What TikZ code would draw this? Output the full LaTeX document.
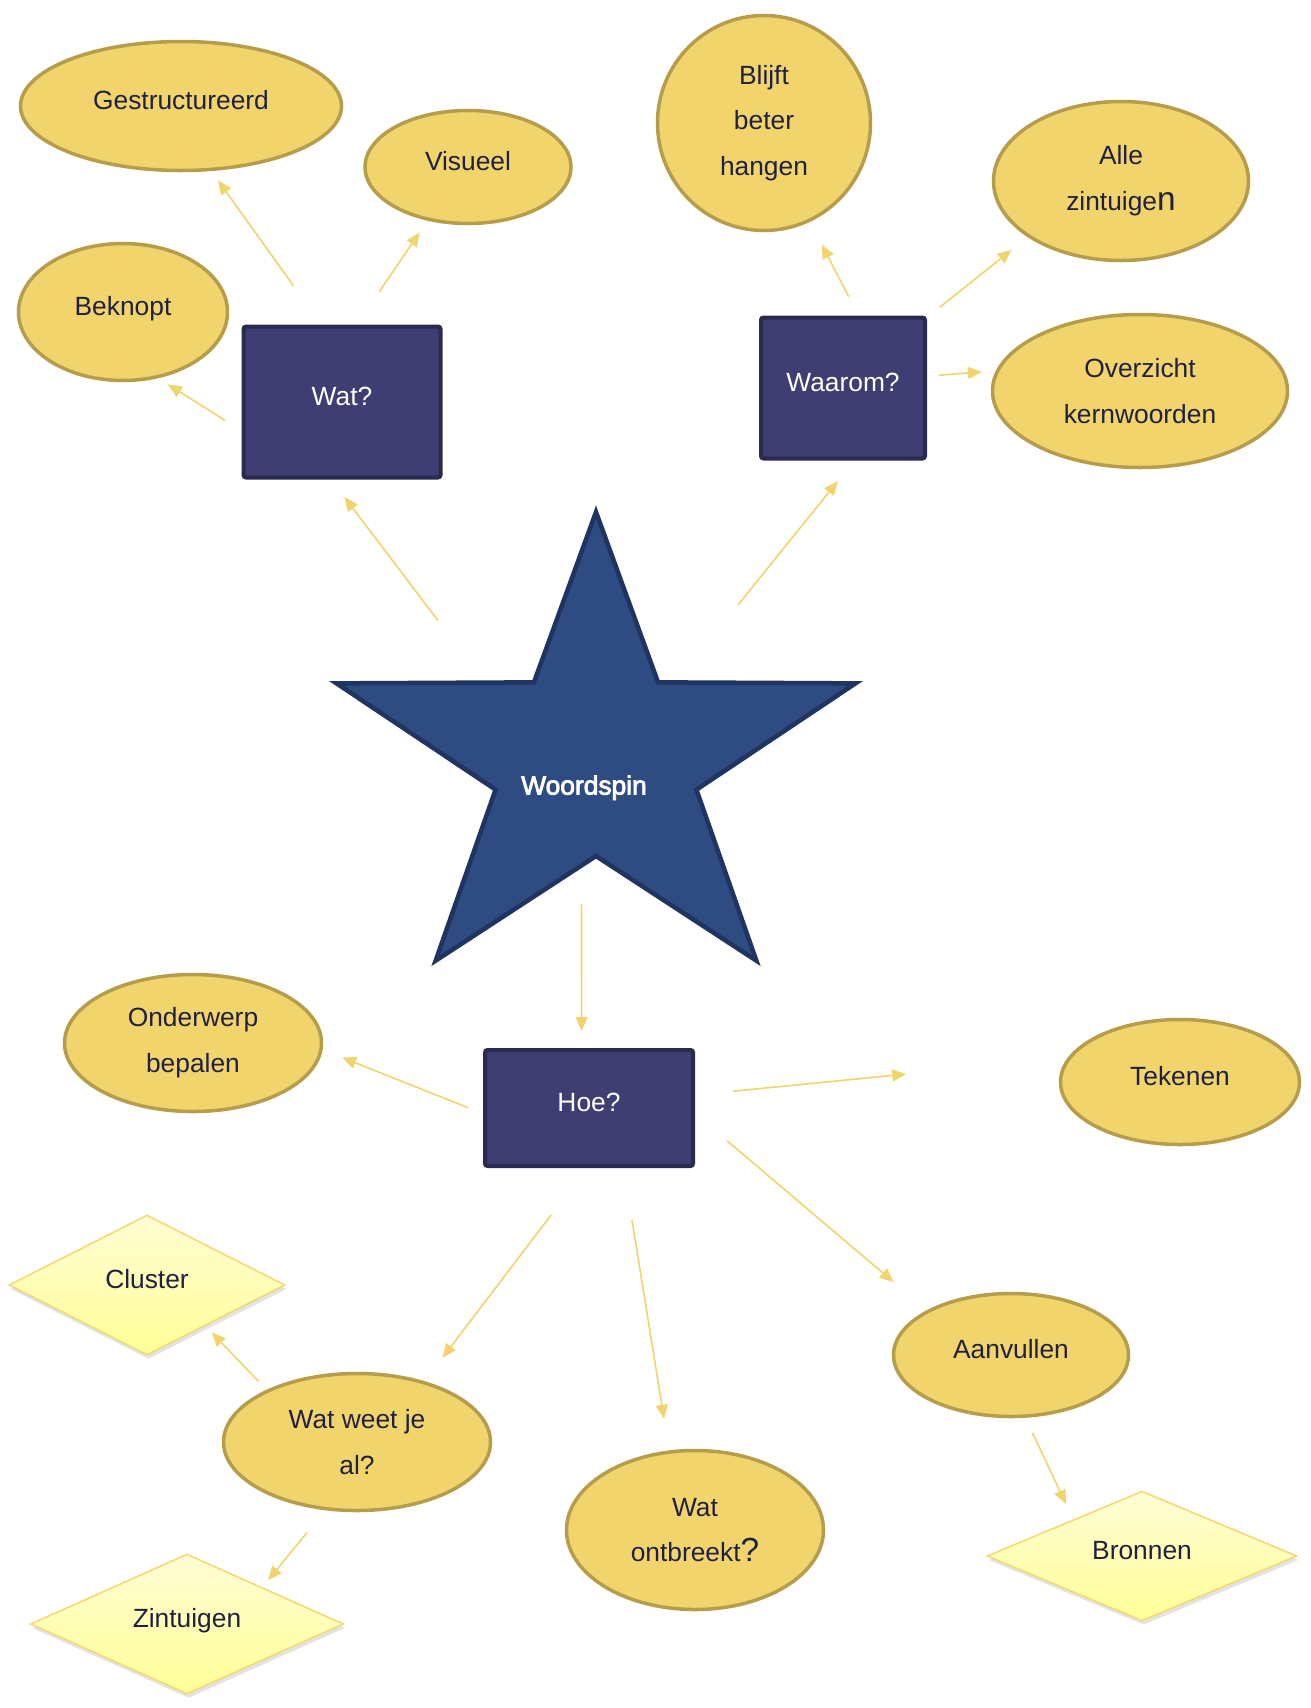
\documentclass[tikz,border=0pt]{standalone}
\usepackage{fontspec}
\setmainfont{Liberation Sans}
\newfontfamily\spinfont[FakeBold=3]{Liberation Sans}
\usetikzlibrary{shapes.geometric, arrows.meta, shadows}

\definecolor{goud}{RGB}{242,212,109}
\definecolor{goudrand}{RGB}{182,157,76}
\definecolor{paars}{RGB}{62,62,114}
\definecolor{paarsrand}{RGB}{42,42,80}
\definecolor{sterblauw}{RGB}{46,76,130}
\definecolor{sterrand}{RGB}{31,52,96}
\definecolor{inkt}{RGB}{32,32,64}
\definecolor{lichtgeel}{RGB}{255,253,212}
\definecolor{geel}{RGB}{255,255,150}
\definecolor{ruitrand}{RGB}{245,216,110}

\begin{document}
\begin{tikzpicture}[x=0.2mm, y=-0.2mm,
		every node/.style={font=\fontsize{15}{26}\selectfont, text depth=6.8pt, align=center},
		twee/.style={text depth=},
		bol/.style={ellipse, draw=goudrand, line width=0.7mm, fill=goud, text=inkt, inner sep=0pt},
		blok/.style={rectangle, draw=paarsrand, line width=0.8mm, fill=paars, text=white, rounded corners=0.5mm},
		ruit/.style={diamond, draw=ruitrand, line width=0.3mm, top color=lichtgeel, bottom color=geel, text=inkt, inner sep=0pt,
			drop shadow={shadow xshift=0.3mm, shadow yshift=-0.8mm, opacity=0.22}},
		spintekst/.style={text=white, font=\fontsize{15}{26}\spinfont, text depth=0pt, inner sep=0pt, minimum width=32mm, minimum height=10mm},
		link/.style={draw=goud, line width=0.32mm, -{Triangle[length=2.8mm, width=2.4mm]}}]
	\path[use as bounding box, fill=white] (0,0) rectangle (1311,1708);
	
	% Wat?
	\node[bol, minimum width=64.2mm, minimum height=25.8mm] (gest) at (181,106) {Gestructureerd};
	\node[bol, minimum width=41.2mm, minimum height=22.6mm] (vis) at (468,167) {Visueel};
	\node[bol, minimum width=41.8mm, minimum height=27.4mm] (bek) at (123,312) {Beknopt};
	\node[blok, minimum width=39.4mm, minimum height=30.2mm] (wat) at (342,402) {Wat?};
	
	% Waarom?
	\node[bol, twee, minimum width=42.6mm, minimum height=43mm] (blijft) at (764,123) {Blijft\\beter\\hangen};
	\node[bol, twee, minimum width=51mm, minimum height=31.8mm] (alle) at (1121,181) {Alle\\zintuige{\fontsize{19}{26}\selectfont n}};
	\node[blok, minimum width=32.8mm, minimum height=28.2mm] (waarom) at (843,388) {Waarom?};
	\node[bol, twee, minimum width=59mm, minimum height=30.6mm] (overz) at (1140,391) {Overzicht\\kernwoorden};
	
	% ster
	\begin{scope}[shift={(596,760)}, xscale=1.1]
		\draw[fill=sterblauw, draw=sterrand, line width=0.9mm] (-90:248)
			\foreach \hoek in {-18,54,126,198} { -- ({\hoek-36}:96) -- (\hoek:248) } -- (234:96) -- cycle;
	\end{scope}
	\node[spintekst] (spin) at (584,785) {Woordspin};
	
	% Hoe?
	\node[blok, minimum width=41.6mm, minimum height=23.2mm] (hoe) at (589,1108) {Hoe?};
	\node[bol, twee, minimum width=51.4mm, minimum height=27.4mm] (onder) at (193,1043) {Onderwerp\\bepalen};
	\node[bol, minimum width=47.8mm, minimum height=25mm] (teken) at (1180,1082) {Tekenen};
	\node[ruit, minimum width=55.2mm, minimum height=28mm] (cluster) at (147,1285) {Cluster};
	\node[bol, twee, minimum width=53.4mm, minimum height=27.4mm] (watweet) at (357,1442) {Wat weet je\\al?};
	\node[ruit, minimum width=62.6mm, minimum height=28mm] (zint) at (187,1624) {Zintuigen};
	\node[bol, twee, minimum width=51.4mm, minimum height=31.8mm] (ontbr) at (695,1530) {Wat\\ontbreekt{\fontsize{19}{26}\selectfont ?}};
	\node[bol, minimum width=47mm, minimum height=24.6mm] (aanv) at (1011,1355) {Aanvullen};
	\node[ruit, minimum width=62mm, minimum height=23.4mm] (bronnen) at (1142,1556) {Bronnen};
	
	% pijlen
	\foreach \van/\naar/\ka/\kb in {
		wat.105/gest.-65/9.5/2.3, wat.79/vis.-127/7.9/2.8, wat.-164/bek.-62/3.9/2.3,
		spin.148/wat.-98/34.9/4.4, spin.41/waarom.-81/39.8/5.3,
		waarom.78/blijft.-65/4.2/5.1, waarom.40/alle.-149/3.3/4.1, waarom.8/overz.172/2.4/2.8,
		spin.-96/hoe.97/18.8/3.4,
		hoe.-177/onder.-3/3.2/4.2, hoe.7/teken.168/7.6/32.4, hoe.-3/aanv.152/8.4/8.7,
		hoe.-92/watweet.42/11.8/5.9, hoe.-60/ontbr.108/10.5/6.4,
		watweet.150/cluster.-35/2.3/1.8, watweet.-115/zint.26/5.7/1.8,
		aanv.-77/bronnen.152/3.3/3.4} {
		\draw[link, shorten <=\ka mm, shorten >=\kb mm] (\van) -- (\naar);
	}
\end{tikzpicture}
\end{document}
